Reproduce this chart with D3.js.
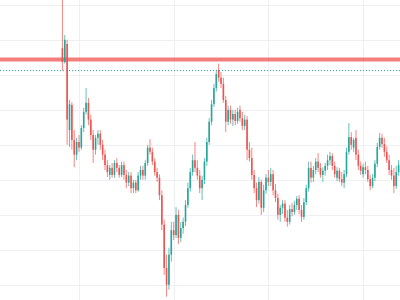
<!DOCTYPE html>
<html>
<head>
<meta charset="utf-8">
<script src="https://cdn.jsdelivr.net/npm/d3@7"></script>
<style>
  html, body { margin: 0; padding: 0; background: #ffffff; }
  svg { display: block; }
</style>
</head>
<body>
<svg id="chart" width="400" height="300"></svg>
<script>
// OHLC per bar
var opens = [133.9,131.9,134.5,122.2,125.8,120.8,118.7,120.5,119.7,122.5,124.8,126.1,123.7,121.5,119.4,121.1,121.7,120.1,118.7,117.2,
  115.8,116.8,115.8,117.5,116.8,115.8,117.2,115.8,114.7,115.7,113.9,114.7,113.6,115.7,116.5,115.7,117.5,119.7,119.1,117.7,
  116.2,115.4,112.9,108.7,102.5,100.1,104.4,107.9,107.2,110.1,106.8,108.2,109.1,111.5,113.9,116.2,117.9,116.8,115.7,113.9,
  115.1,117.7,120.5,123.4,125.9,128.2,130.8,129.7,128.8,126.5,123.4,125.1,123.7,124.5,123.5,125.1,123.9,122.8,123.7,119.4,
  118.2,115.8,113.9,112.2,114.8,111.1,113.6,115.4,114.8,115.9,113.6,112.5,110.1,111.1,111.7,109.7,109.1,110.9,110.5,111.5,
  112.4,110.8,109.8,111.9,113.9,116.8,115.4,116.5,117.7,116.8,115.8,116.4,117.1,117.9,118.5,117.1,115.4,116.4,115.2,114.7,
  115.9,119.1,121.2,119.7,121.1,118.7,117.1,115.9,116.9,116.5,115.2,114.2,115.4,117.4,119.8,121.1,120.2,119.1,117.9,116.5,
  115.7,114.2,116.2];
var highs = [146.5,135.8,135.1,126.5,126.2,122.2,121.1,121.5,122.9,125.4,128.2,126.8,124.4,122.2,121.5,122.2,122.2,120.8,119.4,117.9,
  117.2,117.5,117.9,118.2,117.2,117.7,117.7,116.5,116.2,116.2,115.1,115.1,116.2,117.1,117.1,117.9,120.1,120.9,119.7,118.2,
  116.8,115.9,113.6,109.4,104.4,105.4,109.1,109.1,111.2,110.8,109.1,109.7,112.2,114.7,116.8,118.7,120.5,117.9,116.5,115.7,
  118.2,121.1,123.9,126.5,128.8,130.8,131.7,130.5,129.7,127.1,125.7,125.7,125.1,125.1,125.4,125.7,124.8,124.4,124.2,120.5,
  119.7,116.5,114.7,115.5,115.1,114.4,115.9,116.5,116.8,116.5,114.5,113.1,111.5,112.2,112.2,110.8,111.5,111.8,112.1,112.8,
  112.9,111.5,112.5,114.4,117.7,117.7,117.1,118.2,118.9,117.5,116.9,117.5,118.7,119.1,118.9,117.7,116.9,116.8,116.2,116.5,
  119.7,123.2,121.9,121.1,122.2,119.4,117.7,117.4,117.7,117.1,115.8,115.9,117.9,120.4,121.8,121.7,121.1,119.9,118.7,117.2,
  116.8,117.1,117.9];
var lows = [130.7,131.7,120.1,119.8,119.4,116.9,117.9,119.1,119.4,121.9,124.4,122.9,120.8,117.5,118.7,120.1,119.4,117.9,116.5,115.5,
  115.1,115.4,115.4,116.2,115.4,115.5,115.1,113.9,114.2,113.2,113.2,113.2,113.4,115.1,115.1,115.1,117.1,118.7,117.2,115.7,
  114.8,112.2,107.9,101.5,98.4,99.4,103.4,106.5,106.8,105.9,106.2,107.4,108.5,111.1,113.4,115.7,116.2,115.1,113.2,112.2,
  114.5,117.1,120.1,122.9,125.5,127.7,129.1,128.2,126.1,121.9,122.9,123.1,122.8,122.9,123.1,123.4,122.2,122.2,117.9,117.7,
  115.1,113.2,111.2,111.7,110.1,110.5,113.1,114.2,114.2,112.9,111.9,109.4,109.1,110.2,109.1,108.4,108.7,109.9,110.1,110.8,
  110.2,109.1,109.4,111.5,113.4,114.7,114.8,115.9,116.2,115.4,114.8,115.7,116.5,117.2,116.5,115.4,114.9,114.8,114.2,113.9,
  115.5,118.7,119.4,119.1,117.9,116.5,115.8,115.4,115.9,114.8,113.6,113.9,114.9,116.9,119.4,119.7,118.4,117.5,115.8,115.1,
  113.2,113.8,115.7];
var closes = [131.9,135.1,123.7,125.9,120.8,118.7,120.5,119.7,122.5,124.8,126.1,123.7,121.5,119.4,121.1,121.7,120.1,118.7,117.2,116.2,
  116.8,115.8,117.5,116.8,115.8,117.2,115.8,114.7,115.7,113.9,114.7,113.6,115.7,116.5,115.7,117.5,119.7,119.1,117.7,116.2,
  115.4,112.9,108.7,102.5,100.1,104.4,107.9,107.2,110.1,106.8,108.2,109.1,111.5,113.9,116.2,117.9,116.8,115.7,113.9,115.1,
  117.7,120.5,123.4,125.9,128.2,130.2,129.7,128.8,126.5,123.4,125.1,123.7,124.5,123.5,124.8,123.9,122.8,123.7,119.4,118.2,
  115.8,113.9,112.2,114.8,111.1,113.6,115.4,114.8,115.9,113.6,112.5,110.1,111.1,111.7,109.7,109.1,110.9,110.5,111.5,112.4,
  110.8,109.8,111.9,113.9,116.8,115.4,116.5,117.7,116.8,115.8,116.4,117.1,117.9,118.5,117.1,115.9,116.4,115.2,114.7,115.9,
  119.1,121.2,120.1,120.8,118.7,117.1,116.4,116.9,116.5,115.2,114.2,115.4,117.4,119.8,121.1,120.2,119.1,117.9,116.5,115.7,
  114.2,116.2,117.2];

var gridPrices = [100, 105, 110, 115, 120, 125, 130, 135, 140];
var gridBars = [7, 47, 87, 127];
var resistance = 132.3;
var lastLevel = 130.7;

var UP = '#26a69a', DOWN = '#ef5350';
var width = 400, height = 300;

var svg = d3.select('#chart');

var bars = d3.range(opens.length).map(function (i) {
    return { i: i, o: opens[i], h: highs[i], l: lows[i], c: closes[i] };
});

var x = d3.scaleLinear().domain([0, 140]).range([62.4, 62.4 + 140 * 2.3675]);
var y = d3.scaleLinear().domain([100, 140]).range([285.5, 5.5]);

// grid
var grid = svg.append('g').attr('class', 'grid');
grid.selectAll('line.h')
    .data(gridPrices)
    .enter()
    .append('line')
    .attr('class', 'h')
    .attr('x1', 0).attr('x2', width)
    .attr('y1', d => y(d)).attr('y2', d => y(d))
    .attr('stroke', '#eef0f4')
    .attr('stroke-width', 1);

grid.selectAll('line.v')
    .data(gridBars)
    .enter()
    .append('line')
    .attr('class', 'v')
    .attr('x1', d => Math.round(x(d)) + 0.5).attr('x2', d => Math.round(x(d)) + 0.5)
    .attr('y1', 0).attr('y2', height)
    .attr('stroke', '#eef0f4')
    .attr('stroke-width', 1);

// horizontal red level
svg.append('line')
    .attr('x1', 0).attr('x2', width)
    .attr('y1', y(resistance)).attr('y2', y(resistance))
    .attr('stroke', DOWN)
    .attr('stroke-opacity', 0.75)
    .attr('stroke-width', 4);

// dotted price line
svg.append('line')
    .attr('x1', 0).attr('x2', width)
    .attr('y1', y(lastLevel)).attr('y2', y(lastLevel))
    .attr('stroke', UP)
    .attr('stroke-width', 1)
    .attr('stroke-dasharray', '1,2');

// candles
var candle = svg.append('g').attr('class', 'candles')
    .selectAll('g')
    .data(bars)
    .enter()
    .append('g')
    .attr('fill', d => d.c >= d.o ? UP : DOWN)
    .attr('stroke', d => d.c >= d.o ? UP : DOWN);

candle.append('line')
    .attr('x1', d => x(d.i)).attr('x2', d => x(d.i))
    .attr('y1', d => y(d.h)).attr('y2', d => y(d.l))
    .attr('stroke-opacity', 0.7)
    .attr('stroke-width', 1);

candle.append('rect')
    .attr('stroke', 'none')
    .attr('x', d => x(d.i) - 0.8)
    .attr('width', 1.6)
    .attr('y', d => y(Math.max(d.o, d.c)))
    .attr('height', d => Math.max(1, Math.abs(y(d.o) - y(d.c))));
</script>
</body>
</html>
